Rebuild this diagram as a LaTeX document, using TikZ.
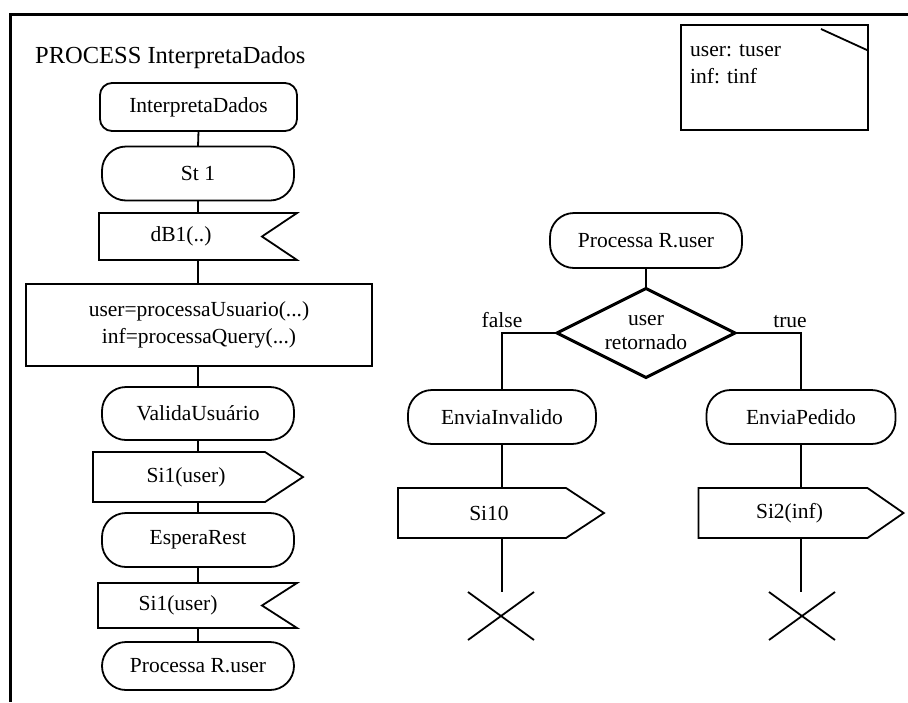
\documentclass[tikz,border=0pt]{standalone}
\usepackage{fontspec}
\setmainfont{Liberation Serif}
\begin{document}
\begin{tikzpicture}[x=1pt,y=-1pt,
  ln/.style={line width=1.8pt},
  thick line/.style={line width=3pt},
  txt/.style={font=\fontsize{21.5}{27}\selectfont, inner sep=0pt},
  bounds/.style 2 args={inner sep=0pt, outer sep=0pt, minimum width=#1pt, minimum height=#2pt},
  stadium/.style 2 args={bounds={#1}{#2}, draw, ln, rounded corners=24pt, txt},
  roundbox/.style 2 args={bounds={#1}{#2}, draw, ln, rounded corners=12pt, txt},
  taskbox/.style 2 args={bounds={#1}{#2}, draw, ln, txt, align=center},
  label/.style={txt, anchor=base}
]
\useasboundingbox (0,0) rectangle (908,702);

% outer frame of the process
\draw[thick line] (908,14) -- (10,14) -- (10,702);
\node[font=\fontsize{24.5}{28}\selectfont, inner sep=0pt, anchor=base west] (title) at (35,63) {PROCESS InterpretaDados};

% variable declaration box
\node[bounds={187}{105}, draw, ln] (vars) at (774.5,77.5) {};
\draw[ln] ([xshift=-47pt,yshift=-4pt]vars.north east) -- ([yshift=-25.5pt]vars.north east);
\node[txt, anchor=base west] (varuser) at (690,56) {user: tuser};
\node[txt, anchor=base west] (varinf) at (690,83) {inf: tinf};

% ---------------- left column ----------------
\node[roundbox={197}{48}] (start) at (198.5,107) {InterpretaDados};
\node[stadium={192}{54}] (st1) at (198,173.5) {St 1};

\node[bounds={198}{47}] (db1) at (198,236.5) {};
\draw[ln] (db1.north west) -- (db1.north east) -- ([xshift=-35pt]db1.east) -- (db1.south east) -- (db1.south west) -- cycle;
\node[txt] (db1t) at (181,236.5) {dB1(..)};

\node[taskbox={346}{82}] (task) at (199,325) {user=processaUsuario(...)\\inf=processaQuery(...)};

\node[stadium={192}{53}] (valida) at (198,413.5) {ValidaUsuário};

\node[bounds={210}{50}] (out1) at (198,477) {};
\draw[ln] (out1.north west) -- ([xshift=-38pt]out1.north east) -- (out1.east) -- ([xshift=-38pt]out1.south east) -- (out1.south west) -- cycle;
\node[txt] (out1t) at (186,477) {Si1(user)};

\node[stadium={192}{54}] (espera) at (198,540) {EsperaRest};

\node[bounds={199}{45}] (in1) at (197.5,605.5) {};
\draw[ln] (in1.north west) -- (in1.north east) -- ([xshift=-35pt]in1.east) -- (in1.south east) -- (in1.south west) -- cycle;
\node[txt] (in1t) at (178,605.5) {Si1(user)};

\node[stadium={192}{48}] (proc) at (198,666) {Processa R.user};

\draw[ln] (start.south) -- (st1.north);
\draw[ln] (st1.south) -- (db1.north);
\draw[ln] (db1.south) -- (db1.south |- task.north);
\draw[ln] (task.south -| valida.north) -- (valida.north);
\draw[ln] (valida.south) -- (out1.north);
\draw[ln] (out1.south) -- (espera.north);
\draw[ln] (espera.south) -- (espera.south |- in1.north);
\draw[ln] (espera.south |- in1.south) -- (proc.north);

% ---------------- right part ----------------
\node[stadium={192}{55}] (procr) at (646,240.5) {Processa R.user};

\node[bounds={178}{89}, txt, align=center, font=\fontsize{21.5}{24}\selectfont] (dec) at (646,333) {user\\retornado};
\draw[thick line, line join=miter] (dec.north) -- (dec.east) -- (dec.south) -- (dec.west) -- cycle;

\node[stadium={188}{54}] (inval) at (502,417) {EnviaInvalido};
\node[bounds={206}{50}] (out10) at (501,513) {};
\draw[ln] (out10.north west) -- ([xshift=-38pt]out10.north east) -- (out10.east) -- ([xshift=-38pt]out10.south east) -- (out10.south west) -- cycle;
\node[txt] (out10t) at (489,513) {Si10};
\node[bounds={66}{48}] (stop1) at (501,616) {};
\draw[ln] (stop1.north west) -- (stop1.south east);
\draw[ln] (stop1.north east) -- (stop1.south west);

\node[stadium={189}{54}] (pedido) at (801,417) {EnviaPedido};
\node[bounds={205}{50}] (out2) at (801,513) {};
\draw[ln] (out2.north west) -- ([xshift=-36pt]out2.north east) -- (out2.east) -- ([xshift=-36pt]out2.south east) -- (out2.south west) -- cycle;
\node[txt] (out2t) at (789.5,513) {Si2(inf)};
\node[bounds={66}{48}] (stop2) at (802,616) {};
\draw[ln] (stop2.north west) -- (stop2.south east);
\draw[ln] (stop2.north east) -- (stop2.south west);

\draw[ln] (procr.south) -- (dec.north);
\draw[ln] (dec.west) -| (inval.north);
\draw[ln] (dec.east) -| (pedido.north);
\draw[ln] (inval.south) -- (inval.south |- out10.north);
\draw[ln] (inval.south |- out10.south) -- (inval.south |- stop1.north);
\draw[ln] (pedido.south) -- (pedido.south |- out2.north);
\draw[ln] (pedido.south |- out2.south) -- (pedido.south |- stop2.north);

\node[label] (lfalse) at (502,327) {false};
\node[label] (ltrue) at (790,327) {true};
\end{tikzpicture}
\end{document}
